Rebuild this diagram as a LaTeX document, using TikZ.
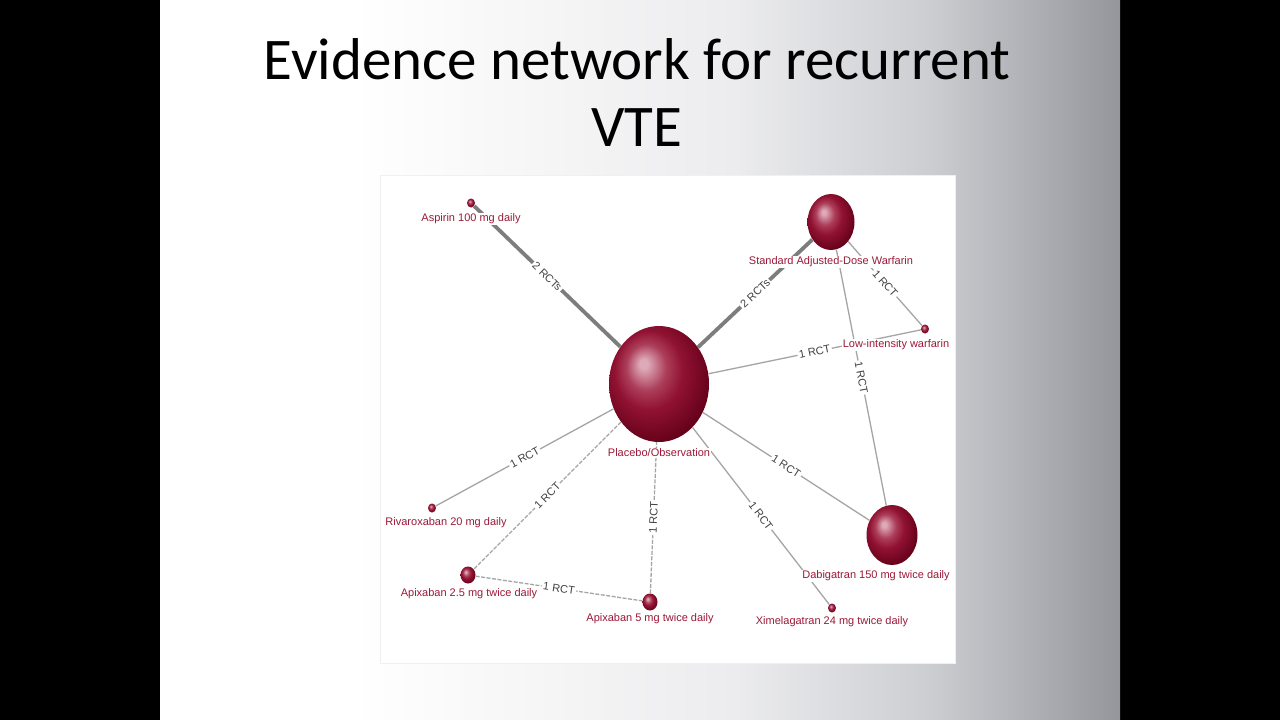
\documentclass[tikz,border=0pt]{standalone}
\usepackage{fontspec}
\setmainfont{Carlito}
\newfontfamily\netfont{Liberation Sans}
\usetikzlibrary{shapes.geometric}
\definecolor{slidepale}{RGB}{236,236,238}
\definecolor{slidegray}{RGB}{205,206,210}
\definecolor{slidedark}{RGB}{148,150,156}
\definecolor{sphlight}{RGB}{222,170,184}
\definecolor{sphmid}{RGB}{172,62,90}
\definecolor{sphbody}{RGB}{145,18,50}
\definecolor{sphdark}{RGB}{98,0,24}
\definecolor{lblred}{RGB}{155,25,55}
\definecolor{edgegray}{RGB}{125,125,125}
\definecolor{thingray}{RGB}{165,165,165}
\definecolor{rctgray}{RGB}{65,65,65}
\pgfdeclarehorizontalshading{slideshade}{100bp}{color(0bp)=(white); color(35bp)=(white); color(55bp)=(slidepale); color(65bp)=(slidegray); color(75bp)=(slidedark); color(100bp)=(slidedark)}
\pgfdeclareradialshading{drugball}{\pgfpoint{-8bp}{9bp}}{color(0bp)=(sphlight); color(2bp)=(sphlight); color(10bp)=(sphmid); color(17bp)=(sphbody); color(30bp)=(sphdark); color(50bp)=(sphdark)}

\begin{document}
\begin{tikzpicture}[x=1pt,y=-1pt,
    drug/.style={ellipse, inner sep=0pt, shade, shading=drugball},
    lbl/.style={font=\netfont\fontsize{11}{13}\selectfont, text=lblred, fill=white, inner sep=1pt},
    rct/.style={font=\netfont\fontsize{11}{13}\selectfont, text=rctgray, fill=white, inner sep=1.5pt, midway, sloped},
    thickedge/.style={draw=edgegray, line width=3.8pt},
    thinedge/.style={draw=thingray, line width=1.3pt},
    dashedge/.style={draw=thingray, line width=1.3pt, dash pattern=on 4pt off 1.5pt}]
    \useasboundingbox (0,0) rectangle (1280,720);
    % slide
    \fill[black] (0,0) rectangle (1280,720);
    \shade[shading=slideshade] (160,0) rectangle (1120,720);
    \node[font=\fontsize{59}{67}\selectfont, align=center, anchor=base] (title) at (637,146) {Evidence network for recurrent\\VTE};
    \fill[white, draw=black!6] (380,175) rectangle (955,663);
    % treatments
    \node[drug, minimum width=100, minimum height=116] (placebo) at (659,384) {};
    \node[drug, minimum width=47, minimum height=56] (stdwarf) at (831,222) {};
    \node[drug, minimum width=51, minimum height=60] (dabi) at (892,535) {};
    \node[drug, minimum width=15, minimum height=17] (apixA) at (468,575) {};
    \node[drug, minimum width=15, minimum height=17] (apixB) at (650,602) {};
    \node[drug, minimum width=8, minimum height=9] (aspirin) at (471,203) {};
    \node[drug, minimum width=8, minimum height=9] (rivaro) at (432,508) {};
    \node[drug, minimum width=8, minimum height=9] (lowwarf) at (925,329) {};
    \node[drug, minimum width=8, minimum height=9] (ximel) at (832,608) {};
    % comparisons
    \draw[thickedge] (aspirin) -- node[rct] {2 RCTs} (placebo);
    \draw[thickedge] (stdwarf) -- node[rct] {2 RCTs} (placebo);
    \draw[thinedge] (stdwarf) -- node[rct] {1 RCT} (lowwarf);
    \draw[thinedge] (stdwarf) -- node[rct] {1 RCT} (dabi);
    \draw[thinedge] (placebo) -- node[rct] {1 RCT} (lowwarf);
    \draw[thinedge] (placebo) -- node[rct] {1 RCT} (dabi);
    \draw[thinedge] (placebo) -- node[rct] {1 RCT} (ximel);
    \draw[thinedge] (placebo) -- node[rct] {1 RCT} (rivaro);
    \draw[dashedge] (placebo) -- node[rct] {1 RCT} (apixA);
    \draw[dashedge] (apixB) -- node[rct] {1 RCT} (placebo);
    \draw[dashedge] (apixA) -- node[rct] {1 RCT} (apixB);
    % names
    \node[lbl] (placebo-l) at (659,453) {Placebo/Observation};
    \node[lbl] (stdwarf-l) at (831,262) {Standard Adjusted-Dose Warfarin};
    \node[lbl] (dabi-l) at (876,576) {Dabigatran 150 mg twice daily};
    \node[lbl] (apixA-l) at (469,594) {Apixaban 2.5 mg twice daily};
    \node[lbl] (apixB-l) at (650,619) {Apixaban 5 mg twice daily};
    \node[lbl] (aspirin-l) at (471,219) {Aspirin 100 mg daily};
    \node[lbl] (rivaro-l) at (446,523) {Rivaroxaban 20 mg daily};
    \node[lbl] (lowwarf-l) at (896,345) {Low-intensity warfarin};
    \node[lbl] (ximel-l) at (832,622) {Ximelagatran 24 mg twice daily};
\end{tikzpicture}
\end{document}
